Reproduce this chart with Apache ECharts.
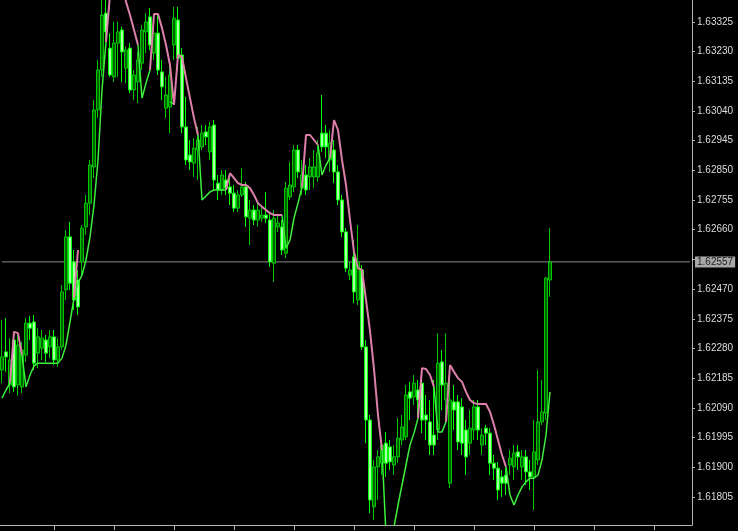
<!DOCTYPE html>
<html><head><meta charset="utf-8">
<script src="https://cdn.jsdelivr.net/npm/echarts@6/dist/echarts.min.js"></script>
<style>html,body{margin:0;padding:0;background:#000;}#c{width:738px;height:531px;}</style>
</head><body><div id="c"></div>
<script>
const barOpen = [1.62211,1.62269,1.62163,1.62307,1.62163,1.62157,1.62259,1.62361,1.62365,1.62265,
1.62281,1.62307,1.62285,1.62317,1.62243,1.62285,1.62467,1.62637,1.62557,1.62499,
1.62557,1.62669,1.62745,1.62861,1.63043,1.63171,1.63353,1.63241,1.63149,1.63257,
1.63299,1.63177,1.63241,1.63107,1.63133,1.63193,1.63293,1.63341,1.63225,1.63289,
1.63165,1.63049,1.63053,1.63251,1.63331,1.63219,1.62989,1.62899,1.62873,1.62915,
1.62925,1.62973,1.62909,1.62995,1.62809,1.62787,1.62819,1.62797,1.62777,1.62729,
1.62771,1.62797,1.62697,1.62723,1.62691,1.62697,1.62707,1.62691,1.62553,1.62669,
1.62669,1.62585,1.62765,1.62797,1.62915,1.62793,1.62835,1.62829,1.62829,1.62829,
1.62969,1.62969,1.62883,1.62915,1.62845,1.62755,1.62653,1.62515,1.62573,1.62435,
1.62531,1.62285,1.62051,1.61773,1.61901,1.61913,1.61977,1.61965,1.61907,1.61933,
1.61987,1.61997,1.62141,1.62125,1.62147,1.62169,1.62067,1.62045,1.62003,1.62019,
1.62237,1.62115,1.61849,1.62109,1.62109,1.62093,1.62019,1.61977,1.62019,1.62093,
1.61971,1.62025,1.62009,1.61913,1.61897,1.61869,1.61875,1.61907,1.61901,1.61949,
1.61901,1.61933,1.61885,1.61869,1.61923,1.62045,1.62073,1.62499];
const barClose = [1.62253,1.62253,1.62243,1.62157,1.62291,1.62275,1.62361,1.62345,1.62233,1.62317,
1.62313,1.62265,1.62317,1.62243,1.62285,1.62461,1.62637,1.62489,1.62435,1.62413,
1.62665,1.62745,1.62867,1.63043,1.63171,1.63347,1.63293,1.63155,1.63257,1.63293,
1.63229,1.63235,1.63107,1.63155,1.63203,1.63299,1.63325,1.63251,1.63289,1.63171,
1.63117,1.63091,1.63155,1.63337,1.63209,1.62989,1.62883,1.62877,1.62921,1.62947,
1.62969,1.62957,1.62989,1.62819,1.62787,1.62835,1.62793,1.62777,1.62729,1.62771,
1.62797,1.62701,1.62723,1.62691,1.62723,1.62707,1.62697,1.62557,1.62697,1.62681,
1.62595,1.62793,1.62803,1.62915,1.62845,1.62835,1.62787,1.62861,1.62861,1.62905,
1.62925,1.62925,1.62937,1.62845,1.62755,1.62653,1.62537,1.62531,1.62461,1.62557,
1.62285,1.62051,1.61795,1.61901,1.61933,1.61971,1.61913,1.61917,1.61933,1.61993,
1.62029,1.62131,1.62121,1.62169,1.62115,1.62051,1.62051,1.61971,1.61971,1.62233,
1.62163,1.62169,1.62115,1.62083,1.61981,1.61977,1.61933,1.62025,1.62093,1.62019,
1.62003,1.62009,1.61913,1.61897,1.61827,1.61849,1.61849,1.61929,1.61945,1.61933,
1.61933,1.61885,1.61869,1.61949,1.62045,1.62077,1.62505,1.62557];
const barLow = [1.62169,1.62205,1.62137,1.62141,1.62128,1.62137,1.62237,1.62307,1.62211,1.62217,
1.62243,1.62237,1.62249,1.62227,1.62221,1.62275,1.62435,1.62467,1.62403,1.62387,
1.62515,1.62643,1.62707,1.62825,1.63017,1.63149,1.63267,1.63149,1.63133,1.63149,
1.63133,1.63129,1.63097,1.63075,1.63065,1.63171,1.63225,1.63235,1.63203,1.63155,
1.63075,1.63017,1.62969,1.63203,1.63171,1.62969,1.62867,1.62851,1.62829,1.62819,
1.62915,1.62931,1.62883,1.62787,1.62755,1.62771,1.62771,1.62739,1.62717,1.62717,
1.62765,1.62669,1.62611,1.62675,1.62669,1.62685,1.62681,1.62541,1.62493,1.62653,
1.62579,1.62569,1.62755,1.62781,1.62825,1.62771,1.62771,1.62787,1.62793,1.62813,
1.62909,1.62889,1.62845,1.62809,1.62739,1.62637,1.62525,1.62499,1.62425,1.62419,
1.62275,1.61977,1.61753,1.61731,1.61795,1.61875,1.61869,1.61891,1.61875,1.61913,
1.61971,1.61987,1.62051,1.62099,1.62067,1.62009,1.61987,1.61939,1.61939,1.61987,
1.62083,1.62051,1.61833,1.62019,1.61955,1.61939,1.61875,1.61939,1.61987,1.61987,
1.61939,1.61971,1.61875,1.61859,1.61795,1.61805,1.61811,1.61875,1.61859,1.61891,
1.61859,1.61843,1.61827,1.61763,1.61907,1.62035,1.62051,1.62445];
const barHigh = [1.62371,1.62377,1.62313,1.62333,1.62323,1.62301,1.62377,1.62384,1.62387,1.62345,
1.62339,1.62323,1.62339,1.62339,1.62313,1.62483,1.62659,1.62685,1.62595,1.62531,
1.62675,1.62771,1.62883,1.63075,1.63203,1.63395,1.63411,1.63289,1.63325,1.63325,
1.63309,1.63245,1.63257,1.63171,1.63229,1.63315,1.63353,1.63369,1.63350,1.63353,
1.63203,1.63149,1.63203,1.63373,1.63373,1.63241,1.63085,1.62947,1.62953,1.62989,
1.62995,1.62995,1.63005,1.63011,1.62835,1.62851,1.62851,1.62825,1.62803,1.62787,
1.62857,1.62813,1.62755,1.62739,1.62745,1.62729,1.62781,1.62717,1.62723,1.62707,
1.62691,1.62813,1.62877,1.62931,1.62931,1.62883,1.62867,1.62889,1.62915,1.62947,
1.63091,1.62995,1.62979,1.62947,1.62867,1.62771,1.62665,1.62557,1.62627,1.62675,
1.62547,1.62307,1.62067,1.61923,1.61955,1.61987,1.62013,1.61987,1.61971,1.62057,
1.62067,1.62163,1.62173,1.62195,1.62179,1.62195,1.62131,1.62115,1.62179,1.62329,
1.62275,1.62329,1.62195,1.62163,1.62131,1.62121,1.62051,1.62083,1.62115,1.62115,
1.62025,1.62035,1.62025,1.61939,1.61917,1.61891,1.61897,1.61955,1.61971,1.61971,
1.61955,1.61955,1.61923,1.62051,1.62211,1.62179,1.62509,1.62665];
const trendUp = [1.62121,1.62147,1.62169,null,null,1.62259,1.62157,1.62195,1.62224,1.62233,
1.62233,1.62233,1.62233,1.62233,1.62233,1.62249,1.62291,1.62365,1.62441,1.62489,
1.62515,1.62563,1.62637,1.62739,1.62883,1.63107,1.63261,null,null,null,
null,null,null,null,1.63251,1.63081,1.63129,1.63171,null,null,
null,null,1.63069,1.63062,null,null,null,null,null,1.62963,
1.62755,1.62768,1.62781,1.62787,1.62787,1.62787,1.62787,null,null,null,
null,null,null,null,null,null,null,null,null,null,
1.62707,1.62601,1.62627,1.62697,1.62745,1.62797,null,null,null,1.62931,
1.62835,1.62867,1.62889,null,null,null,null,null,null,null,
null,null,null,null,null,1.61955,1.61683,1.61673,1.61709,1.61779,
1.61843,1.61907,1.61971,1.62009,1.62057,null,null,null,1.62157,1.62013,
1.62013,1.62045,null,null,null,null,null,null,null,null,
null,null,null,null,null,null,1.61901,1.61811,1.61779,1.61811,
1.61837,1.61853,1.61865,1.61865,1.61875,1.61923,1.62003,1.62141];
const trendDown = [null,null,1.62169,1.62333,1.62329,1.62259,null,null,null,null,
null,null,null,null,null,null,null,null,1.62441,1.62595,
null,null,null,null,null,null,1.63261,1.63411,1.63475,1.63491,
1.63459,1.63389,1.63347,1.63299,1.63251,null,null,1.63171,1.63350,1.63350,
1.63305,1.63251,1.63187,1.63059,1.63219,1.63213,1.63145,1.63081,1.63017,1.62963,
null,null,null,null,null,null,1.62787,1.62841,1.62825,1.62809,
1.62803,1.62803,1.62793,1.62771,1.62745,1.62733,1.62723,1.62713,1.62707,1.62707,
1.62707,null,null,null,null,1.62797,1.62963,1.62963,1.62947,1.62931,
null,null,1.62889,1.63011,1.62979,1.62883,1.62803,1.62691,1.62589,1.62537,
1.62531,1.62435,1.62336,1.62214,1.62067,1.61955,null,null,null,null,
null,null,null,null,1.62057,1.62217,1.62214,1.62195,1.62157,null,
null,1.62045,1.62227,1.62205,1.62185,1.62173,1.62141,1.62115,1.62105,1.62102,
1.62102,1.62102,1.62077,1.62035,1.61987,1.61939,1.61901,null,null,null,
null,null,null,null,null,null,null,null];
const yTickValues = [1.61805,1.61900,1.61995,1.62090,1.62185,1.62280,1.62375,1.62470,1.62565,1.62660,1.62755,1.62850,1.62945,1.63040,1.63135,1.63230,1.63325];
const yLabelValues = [1.61805,1.61900,1.61995,1.62090,1.62185,1.62280,1.62375,1.62470,1.62660,1.62755,1.62850,1.62945,1.63040,1.63135,1.63230,1.63325];
const bidPrice = 1.62557;
const totalSlots = 173;

const categories = [];
for (let i = 0; i < totalSlots; i++) categories.push(String(i));
const candleData = barOpen.map((o, i) => [o, barClose[i], barLow[i], barHigh[i]]);
const bidLine = [[categories[0], bidPrice], [categories[totalSlots - 1], bidPrice]];

const chart = echarts.init(document.getElementById('c'), null, {renderer: 'canvas'});
chart.setOption({
  backgroundColor: '#000000',
  animation: false,
  grid: {left: 0, right: 46, top: 0, bottom: 6, containLabel: false},
  xAxis: {
    type: 'category', data: categories, boundaryGap: true,
    axisLine: {show: true, lineStyle: {color: '#b4b4b4', width: 1}},
    axisTick: {show: true, alignWithLabel: true, interval: (i) => i % 15 === 13, length: 5, lineStyle: {color: '#b4b4b4'}},
    axisLabel: {show: false},
    splitLine: {show: false}
  },
  yAxis: {
    type: 'value', position: 'right', min: 1.61715, max: 1.63395,
    axisLine: {show: true, lineStyle: {color: '#b4b4b4', width: 1}},
    axisTick: {show: true, length: 3, customValues: yTickValues, lineStyle: {color: '#b4b4b4'}},
    axisLabel: {show: true, customValues: yLabelValues, formatter: (v) => Number(v).toFixed(5),
      color: '#dcdcdc', fontFamily: 'Liberation Sans', fontSize: 10, margin: 5},
    splitLine: {show: false}
  },
  series: [
    {
      type: 'line', data: bidLine, showSymbol: false, symbol: 'none', z: 1, clip: false,
      lineStyle: {color: '#8c8c8c', width: 1},
      endLabel: {show: true, formatter: bidPrice.toFixed(5), color: '#202020', backgroundColor: '#a8a8a8',
        fontFamily: 'Liberation Sans', fontSize: 10, padding: [1, 2, 0, 2], distance: 5}
    },
    {
      type: 'candlestick', data: candleData, barWidth: 3, z: 2,
      itemStyle: {color: '#006400', color0: '#a8ffa8', borderColor: '#00c800', borderColor0: '#00ff00', borderWidth: 1}
    },
    {
      type: 'line', data: trendDown, showSymbol: false, symbol: 'none', connectNulls: false, z: 4,
      lineStyle: {color: '#dc80aa', width: 2}
    },
    {
      type: 'line', data: trendUp, showSymbol: false, symbol: 'none', connectNulls: false, z: 3,
      lineStyle: {color: '#3cf03c', width: 1.5}
    }
  ]
});
</script>
</body></html>
